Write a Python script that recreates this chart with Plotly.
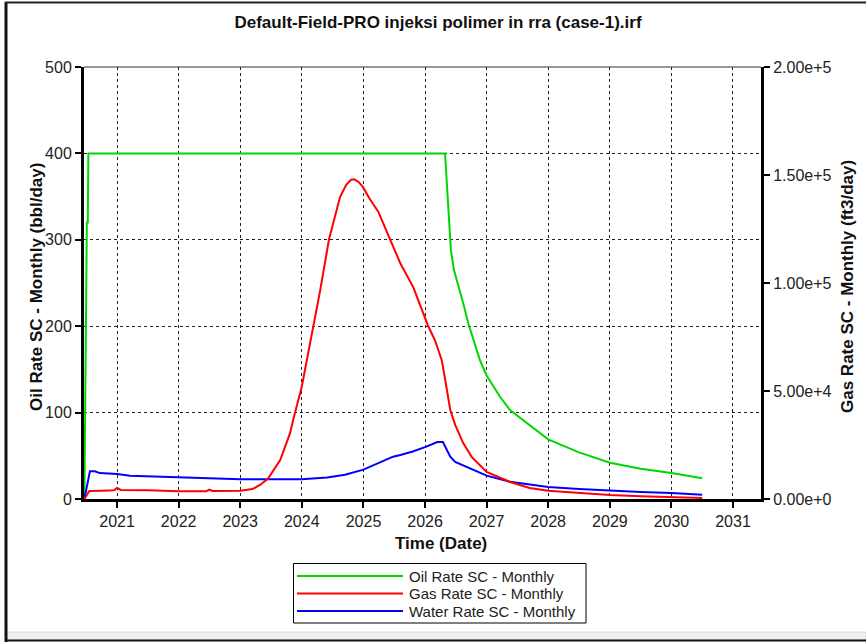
import plotly.graph_objects as go
from datetime import datetime, timedelta

# ---- series data (decimal years / rates) ----
oil_t = [2020.47, 2020.49, 2020.51, 2020.525, 2020.535, 2026.325, 2026.35, 2026.373,
         2026.42, 2026.47, 2026.52, 2026.57, 2026.63, 2026.70, 2026.89, 2027.00,
         2027.22, 2027.38, 2027.70, 2028.0, 2028.5, 2029.0, 2029.5, 2030.0, 2030.5]
oil_rate = [0, 160, 320, 320, 400, 400, 370, 338,
            288, 265, 252, 242, 224, 204, 161, 143,
            118, 103, 86, 69, 54, 42, 35, 30, 24]

gas_t = [2020.47, 2020.55, 2020.75, 2020.95, 2021.00, 2021.06, 2021.5, 2022.0,
         2022.45, 2022.5, 2022.55, 2023.0, 2023.2, 2023.32, 2023.45, 2023.55,
         2023.65, 2023.81, 2023.86, 2024.0, 2024.15, 2024.30, 2024.44, 2024.62,
         2024.72, 2024.80, 2024.85, 2024.92, 2024.99, 2025.1, 2025.24, 2025.43,
         2025.6, 2025.81, 2025.97, 2026.05, 2026.16, 2026.27, 2026.32, 2026.41,
         2026.49, 2026.62, 2026.76, 2027.0, 2027.38, 2027.7, 2028.0, 2028.5,
         2029.0, 2029.5, 2030.0, 2030.5]
gas_rate = [0, 3700, 3800, 4000, 5100, 4200, 4100, 3600,
            3600, 4300, 3700, 3800, 4600, 6500, 9300, 13500,
            18000, 30500, 36600, 52000, 74000, 96800, 120000, 139800,
            145500, 147800, 148000, 146800, 144500, 139000, 133000, 120000,
            109000, 98000, 86100, 80100, 73600, 64400, 56500, 41200,
            34300, 25900, 19400, 12500, 7900, 5100, 3800, 2700,
            1850, 1300, 900, 500]

water_t = [2020.47, 2020.53, 2020.56, 2020.64, 2020.72, 2021.0, 2021.21, 2021.6,
           2022.0, 2022.5, 2023.0, 2023.5, 2024.0, 2024.41, 2024.7, 2025.0,
           2025.2, 2025.48, 2025.6, 2025.8, 2026.0, 2026.2, 2026.29, 2026.35,
           2026.41, 2026.49, 2026.68, 2027.0, 2027.38, 2027.7, 2028.0, 2028.5,
           2029.0, 2029.5, 2030.0, 2030.5]
water_rate = [0, 20, 32, 32, 30, 29, 27, 26,
              25, 24, 23, 23, 23, 25, 28, 34,
              40, 49, 51, 55, 60, 66, 66, 57,
              49, 43, 37, 27, 20, 17, 14, 11.5,
              9.5, 8, 7, 5]

series_names = ["Oil Rate SC - Monthly", "Gas Rate SC - Monthly", "Water Rate SC - Monthly"]
series_colors = ["rgb(0,215,0)", "rgb(255,0,0)", "rgb(0,0,255)"]

year_ticks = list(range(2021, 2032))
oil_ticks = [0, 100, 200, 300, 400, 500]
gas_ticks = [0, 50000, 100000, 150000, 200000]
gas_tick_text = ["0.00e+0", "5.00e+4", "1.00e+5", "1.50e+5", "2.00e+5"]


def to_date(y):
    year = int(y)
    start = datetime(year, 1, 1)
    span = (datetime(year + 1, 1, 1) - start).days
    return start + timedelta(days=(y - year) * span)


FONT = "Liberation Sans, Arial, sans-serif"
W, H = 866, 642
ML, MR, MT, MB = 84, 105, 67, 143
PW, PH = W - ML - MR, H - MT - MB


def px_x(p):
    return (p - ML) / PW


def px_y(p):
    return (H - MB - p) / PH


fig = go.Figure()
fig.add_trace(go.Scatter(x=[to_date(t) for t in oil_t], y=oil_rate,
                         name=series_names[0], mode="lines",
                         line=dict(color=series_colors[0], width=2)))
fig.add_trace(go.Scatter(x=[to_date(t) for t in gas_t], y=gas_rate,
                         name=series_names[1], mode="lines", yaxis="y2",
                         line=dict(color=series_colors[1], width=2)))
fig.add_trace(go.Scatter(x=[to_date(t) for t in water_t], y=water_rate,
                         name=series_names[2], mode="lines",
                         line=dict(color=series_colors[2], width=2)))

grid = dict(showgrid=True, gridcolor="#222222", gridwidth=1, griddash="3px,3px")
title_font = dict(family=FONT, size=17, color="#111111")

fig.update_layout(
    width=W, height=H,
    margin=dict(l=ML, r=MR, t=MT, b=MB, pad=0, autoexpand=False),
    paper_bgcolor="white", plot_bgcolor="white",
    font=dict(family=FONT, size=16, color="#222222"),
    title=dict(text="<b>Default-Field-PRO injeksi polimer in rra (case-1).irf</b>",
               font=title_font,
               x=438 / W, xref="container", xanchor="center",
               y=1 - 22 / H, yref="container", yanchor="middle"),
    xaxis=dict(type="date", range=[to_date(2020.464), to_date(2031.455)],
               tickvals=[datetime(y, 1, 1) for y in year_ticks],
               ticktext=[str(y) for y in year_ticks],
               ticks="outside", ticklen=6, tickwidth=2, tickcolor="black",
               showline=True, linecolor="black", linewidth=3, automargin=False,
               zeroline=False, **grid),
    yaxis=dict(range=[0, 500], tickvals=oil_ticks,
               ticks="outside", ticklen=6, tickwidth=2, tickcolor="black",
               showline=True, linecolor="black", linewidth=3, automargin=False,
               zeroline=False, **grid),
    yaxis2=dict(range=[0, 200000], overlaying="y", side="right",
                tickvals=gas_ticks, ticktext=gas_tick_text,
                ticks="outside", ticklen=6, tickwidth=2, tickcolor="black",
                showline=True, linecolor="black", linewidth=3, automargin=False,
                showgrid=False, zeroline=False),
    showlegend=False,
)

annotations = [
    dict(text="<b>Time (Date)</b>", xref="paper", yref="paper",
         x=px_x(441), y=px_y(543), xanchor="center", yanchor="middle",
         showarrow=False, font=title_font),
    dict(text="<b>Oil Rate SC - Monthly (bbl/day)</b>", xref="paper", yref="paper",
         x=px_x(36), y=px_y(287), xanchor="center", yanchor="middle",
         textangle=-90, showarrow=False, font=title_font),
    dict(text="<b>Gas Rate SC - Monthly (ft3/day)</b>", xref="paper", yref="paper",
         x=px_x(847), y=px_y(287), xanchor="center", yanchor="middle",
         textangle=-90, showarrow=False, font=title_font),
]

# plot frame top edge and window border
shapes = [
    dict(type="line", xref="paper", yref="paper", x0=0, x1=1, y0=1, y1=1,
         line=dict(color="#333333", width=1)),
    dict(type="rect", xref="paper", yref="paper",
         x0=px_x(6), x1=px_x(866), y0=px_y(632), y1=px_y(640),
         fillcolor="#efefef", line=dict(color="#dddddd", width=1)),
    dict(type="line", xref="paper", yref="paper",
         x0=px_x(6), x1=px_x(6), y0=px_y(2), y1=px_y(642),
         line=dict(color="#111111", width=3)),
    dict(type="line", xref="paper", yref="paper",
         x0=px_x(5), x1=px_x(866), y0=px_y(2.5), y1=px_y(2.5),
         line=dict(color="#222222", width=2)),
    dict(type="line", xref="paper", yref="paper",
         x0=px_x(5), x1=px_x(866), y0=px_y(640.5), y1=px_y(640.5),
         line=dict(color="#111111", width=2)),
]

# legend box below the axis title
shapes.append(dict(type="rect", xref="paper", yref="paper",
                   x0=px_x(293.5), x1=px_x(586), y0=px_y(563.5), y1=px_y(623),
                   fillcolor="white", line=dict(color="black", width=1)))
for i, (name, color) in enumerate(zip(series_names, series_colors)):
    row_y = 576 + i * 17.5
    shapes.append(dict(type="line", xref="paper", yref="paper",
                       x0=px_x(297), x1=px_x(403), y0=px_y(row_y), y1=px_y(row_y),
                       line=dict(color=color, width=2)))
    annotations.append(dict(text=name, xref="paper", yref="paper",
                            x=px_x(407), y=px_y(row_y), xanchor="left", yanchor="middle",
                            showarrow=False,
                            font=dict(family=FONT, size=15, color="#222222")))

fig.update_layout(shapes=shapes, annotations=annotations)

fig.write_html("out.html")
